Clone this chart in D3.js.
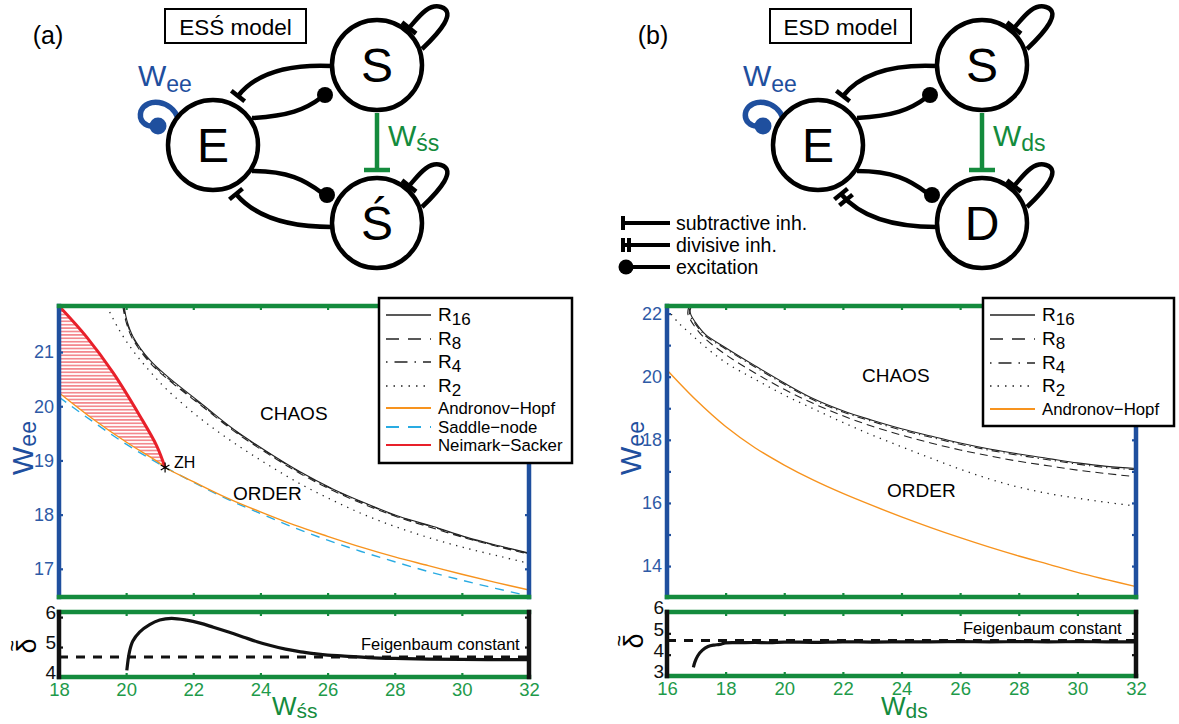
<!DOCTYPE html>
<html>
<head>
<meta charset="utf-8">
<script src="https://cdn.jsdelivr.net/npm/d3@7"></script>
<style>
body { margin:0; background:#fff; }
svg { font-family:"Liberation Sans", Arial, Helvetica, sans-serif; }
</style>
</head>
<body>
<svg id="fig" width="1179" height="724"></svg>
<script>
// ---- data ----
// panel (a): ESS' model, x = W_s's
var aR16 = [[19.94,21.85],[20.02,21.59],[20.21,21.28],[20.71,20.85],[21.21,20.56],[22.2,20.07],[23.19,19.58],[24.2,19.16],[25.18,18.79],[26.17,18.47],[27.17,18.2],[28.16,17.96],[29.15,17.78],[30.15,17.58],[31.14,17.42],[32,17.29]];
var aR8  = [[19.9,21.85],[19.98,21.6],[20.17,21.27],[20.67,20.83],[21.2,20.52],[22.2,20.03],[23.19,19.55],[24.2,19.13],[25.18,18.76],[26.17,18.44],[27.17,18.17],[28.16,17.94],[29.15,17.75],[30.15,17.56],[31.14,17.4],[32,17.27]];
var aR4  = [[19.92,21.85],[20.0,21.6],[20.19,21.28],[20.69,20.84],[21.2,20.54],[22.2,20.05],[23.19,19.57],[24.2,19.15],[25.18,18.78],[26.17,18.46],[27.17,18.19],[28.16,17.95],[29.15,17.77],[30.15,17.57],[31.14,17.41],[32,17.28]];
var aR2  = [[19.42,21.85],[19.8,21.4],[20.21,21.02],[20.7,20.65],[21.21,20.31],[22.2,19.78],[23.2,19.33],[24.2,18.93],[25.18,18.57],[26.2,18.25],[27.2,17.97],[28.2,17.74],[29.2,17.54],[30.2,17.37],[31.2,17.22],[32,17.1]];
var aHopf = [[18,20.25],[19,19.77],[20,19.34],[21,18.95],[21.16,18.87],[22,18.61],[23,18.31],[24,18.05],[25,17.81],[26,17.6],[27,17.4],[28,17.22],[29,17.06],[30,16.9],[31,16.75],[32,16.61]];
var aSaddle = [[18,20.17],[19,19.72],[20,19.3],[21,18.93],[22,18.6],[23,18.29],[24,18.02],[25,17.76],[26,17.53],[27,17.32],[28,17.13],[29,16.95],[30,16.79],[31,16.64],[32,16.5]];
var aNeimark = [[18,21.85],[18.82,21.28],[19.62,20.61],[20.41,19.82],[20.91,19.27],[21.16,18.87]];
var aZH = [21.16,18.87];
var aDelta = [[20.02,4.22],[20.1,4.85],[20.2,5.2],[20.4,5.5],[20.7,5.75],[21.0,5.9],[21.35,5.96],[21.8,5.9],[22.2,5.8],[22.6,5.66],[23.05,5.5],[23.5,5.33],[23.9,5.18],[24.3,5.05],[24.75,4.93],[25.2,4.84],[25.6,4.78],[26.0,4.73],[26.5,4.7],[27.2,4.65],[28,4.62],[29,4.6],[30,4.59],[31,4.58],[32,4.58]];

// panel (b): ESD model, x = W_ds
var bR16 = [[16.84,22.24],[16.79,22.1],[16.82,21.95],[16.95,21.75],[17.3,21.35],[18,20.92],[19,20.35],[20,19.8],[21,19.3],[22,18.92],[23,18.62],[24,18.35],[25,18.12],[26,17.9],[27,17.71],[28,17.55],[29,17.41],[30,17.27],[31,17.16],[32,17.09]];
var bR8  = [[16.74,22.2],[16.71,22.0],[16.8,21.8],[17.2,21.3],[18,20.7],[19,20.12],[20,19.6],[21,19.15],[22,18.76],[23,18.43],[24,18.15],[25,17.9],[26,17.68],[27,17.49],[28,17.32],[29,17.18],[30,17.04],[31,16.93],[32,16.83]];
var bR4  = [[16.8,22.22],[16.76,22.06],[16.8,21.9],[16.93,21.72],[17.28,21.32],[18,20.88],[19,20.31],[20,19.76],[21,19.26],[22,18.88],[23,18.58],[24,18.31],[25,18.08],[26,17.86],[27,17.67],[28,17.51],[29,17.37],[30,17.23],[31,17.12],[32,17.05]];
var bR2  = [[16.0,22.15],[16.4,21.7],[16.79,21.37],[17.3,20.95],[18,20.45],[19,19.92],[20,19.42],[21,18.98],[22,18.55],[23,18.15],[24,17.78],[25,17.42],[26,17.07],[27,16.76],[28,16.5],[29,16.3],[30,16.15],[31,16.02],[32,15.9]];
var bHopf = [[16,20.21],[17,19.25],[18,18.42],[19,17.75],[20,17.2],[21,16.72],[22,16.3],[23,15.92],[24,15.56],[25,15.22],[26,14.9],[27,14.6],[28,14.32],[29,14.06],[30,13.8],[31,13.57],[32,13.35]];
var bDelta = [[16.9,3.4],[16.95,3.65],[17.05,3.95],[17.2,4.2],[17.4,4.38],[17.6,4.45],[17.8,4.48],[18,4.55],[18.5,4.56],[19,4.57],[19.5,4.56],[20,4.59],[21,4.58],[22,4.6],[23,4.59],[24,4.6],[25,4.6],[26,4.61],[27,4.6],[28,4.61],[29,4.6],[30,4.61],[31,4.6],[32,4.6]];

var feigenbaum = 4.669;
var aTicksX = [18,20,22,24,26,28,30,32];
var bTicksX = [16,18,20,22,24,26,28,30,32];
var aTicksY = [17,18,19,20,21];
var bTicksY = [14,15,16,17,18,19,20,21,22];
var bTickLabelsY = [14,16,18,20,22];

var BLUE = "#1f4f9e", BLUE_T = "#2e5aa6", GREEN = "#148b3d", GREEN_T = "#1e9a4a";
var ORANGE = "#f7931e", CYAN = "#29abe2", RED = "#e8202a";

var svg = d3.select("#fig");

// ---- diagrams ----
var nodes = [{id:"E", x:213, y:145}, {id:"S", x:377, y:65}, {id:"S2", x:377, y:223}];
var R = 45;

function tbar(g, x, y, dx, dy, len, color, w) {
  var n = Math.sqrt(dx*dx + dy*dy); dx /= n; dy /= n;
  var px = -dy, py = dx;
  g.append("line").attr("x1", x - px*len/2).attr("y1", y - py*len/2)
    .attr("x2", x + px*len/2).attr("y2", y + py*len/2)
    .attr("stroke", color).attr("stroke-width", w);
}

function diagram(ox, letter3, subTxt, divisive, title, tag) {
  var g = svg.append("g").attr("transform", "translate(" + ox + ",0)");
  var E = nodes[0], S = nodes[1], S2 = nodes[2];
  var stroke = "#000", sw = 4.5;
  // edges
  g.append("path").attr("d", "M" + (S.x-R) + "," + (S.y+1) + " C290,64 256,73 238,96")
    .attr("fill","none").attr("stroke",stroke).attr("stroke-width",sw);
  tbar(g, 238, 96, -18, 23, 17, stroke, sw);
  g.append("path").attr("d", "M252,118 C288,116 305,110 322,97")
    .attr("fill","none").attr("stroke",stroke).attr("stroke-width",sw);
  g.append("circle").attr("cx",325).attr("cy",95).attr("r",8).attr("fill",stroke);
  g.append("path").attr("d", "M252,171 C288,171 305,180 322,193")
    .attr("fill","none").attr("stroke",stroke).attr("stroke-width",sw);
  g.append("circle").attr("cx",327).attr("cy",195).attr("r",8).attr("fill",stroke);
  g.append("path").attr("d", "M" + (S2.x-R) + "," + (S2.y+4) + " C290,227 256,218 236,194")
    .attr("fill","none").attr("stroke",stroke).attr("stroke-width",sw);
  tbar(g, 236, 194, -18, -22, 17, stroke, sw);
  if (divisive) tbar(g, 241, 200, -18, -22, 17, stroke, sw);
  // self loops
  [S, S2].forEach(function (c) {
    var dy = c.y - 65;
    g.append("path").attr("d", "M422," + (49+dy) + " C440," + (32+dy) + " 457," + (12+dy) + " 441," + (7+dy) +
        " C428," + (3+dy) + " 418," + (18+dy) + " 409," + (28+dy))
      .attr("fill","none").attr("stroke",stroke).attr("stroke-width",sw);
    tbar(g, 409, 28+dy, -8, 10, 18, stroke, sw);
  });
  // W_ee loop
  g.append("path").attr("d", "M178,118 C171,100 147,97 141,111 C138,121 146,127 154,126")
    .attr("fill","none").attr("stroke",BLUE).attr("stroke-width",5.5);
  g.append("circle").attr("cx",158).attr("cy",126).attr("r",8.5).attr("fill",BLUE);
  // W_ss link
  g.append("line").attr("x1",S.x).attr("y1",S.y+R+3).attr("x2",S.x).attr("y2",S2.y-R-8)
    .attr("stroke",GREEN).attr("stroke-width",4.5);
  g.append("line").attr("x1",S.x-13).attr("y1",S2.y-R-8).attr("x2",S.x+13).attr("y2",S2.y-R-8)
    .attr("stroke",GREEN).attr("stroke-width",4.5);
  // nodes
  nodes.forEach(function (d, i) {
    g.append("circle").attr("cx",d.x).attr("cy",d.y).attr("r",R)
      .attr("fill","#fff").attr("stroke",stroke).attr("stroke-width",sw);
    g.append("text").attr("x",d.x).attr("y",d.y+17).attr("text-anchor","middle")
      .attr("font-size",48).text(i === 0 ? "E" : (i === 1 ? "S" : letter3));
  });
  // labels
  var t1 = g.append("text").attr("x",138).attr("y",86).attr("fill",BLUE);
  t1.append("tspan").attr("font-size",30).text("W");
  t1.append("tspan").attr("font-size",23).attr("dy",6).text("ee");
  var t2 = g.append("text").attr("x",388).attr("y",146).attr("fill",GREEN);
  t2.append("tspan").attr("font-size",30).text("W");
  t2.append("tspan").attr("font-size",23).attr("dy",5).text(subTxt);
  g.append("rect").attr("x",165).attr("y",9).attr("width",141).attr("height",34)
    .attr("fill","#fff").attr("stroke","#000").attr("stroke-width",2);
  g.append("text").attr("x",235.5).attr("y",34.5).attr("text-anchor","middle").attr("font-size",22.5).text(title);
  g.append("text").attr("x",48).attr("y",44).attr("text-anchor","middle").attr("font-size",25).text(tag);
  return g;
}

diagram(0, "Ś", "śs", false, "ESŚ model", "(a)");
diagram(605, "D", "ds", true, "ESD model", "(b)");

// symbol legend (b)
var kg = svg.append("g");
[["subtractive inh.", 223], ["divisive inh.", 245], ["excitation", 267]].forEach(function (d, i) {
  kg.append("line").attr("x1", i === 2 ? 626 : 622).attr("x2",670).attr("y1",d[1]).attr("y2",d[1])
    .attr("stroke","#000").attr("stroke-width",4);
  if (i < 2) kg.append("line").attr("x1",623).attr("x2",623).attr("y1",d[1]-7).attr("y2",d[1]+7).attr("stroke","#000").attr("stroke-width",4);
  if (i === 1) kg.append("line").attr("x1",629).attr("x2",629).attr("y1",d[1]-7).attr("y2",d[1]+7).attr("stroke","#000").attr("stroke-width",4);
  if (i === 2) kg.append("circle").attr("cx",626).attr("cy",d[1]).attr("r",7.5).attr("fill","#000");
  kg.append("text").attr("x",676).attr("y",d[1]+7).attr("font-size",19.5).text(d[0]);
});

// ---- plots ----
function styleAxis(sel, color, textColor, size) {
  sel.select(".domain").remove();
  sel.selectAll(".tick line").attr("stroke", color).attr("stroke-width", 2.2);
  sel.selectAll(".tick text").attr("fill", textColor).attr("font-size", size || 18)
    .attr("font-family", "Liberation Sans, Arial, sans-serif");
}

function frameLine(x1, y1, x2, y2, color) {
  svg.append("line").attr("x1",x1).attr("y1",y1).attr("x2",x2).attr("y2",y2)
    .attr("stroke",color).attr("stroke-width",4.5).attr("stroke-linecap","square");
}

function curve(x, y, data, color, width, dash, kind) {
  var line = d3.line().x(function (d) { return x(d[0]); }).y(function (d) { return y(d[1]); })
    .curve(kind || d3.curveCatmullRom.alpha(0.5));
  var p = svg.append("path").datum(data).attr("d", line).attr("fill","none")
    .attr("stroke",color).attr("stroke-width",width);
  if (dash) p.attr("stroke-dasharray", dash);
  return p;
}

function mainPanel(x, y, ticksX, ticksY, labelsY, series, legendItems, lg) {
  var l = x.range()[0], r = x.range()[1], t = y.range()[1], b = y.range()[0];
  series.forEach(function (s) { curve(x, y, s.data, s.color, s.width, s.dash); });
  // axes
  var ax;
  ax = svg.append("g").attr("transform","translate(" + l + ",0)")
    .call(d3.axisLeft(y).tickValues(ticksY).tickSize(-4).tickPadding(5)
      .tickFormat(function (d) { return labelsY.indexOf(d) >= 0 ? d : ""; }));
  styleAxis(ax, BLUE, BLUE_T);
  ax = svg.append("g").attr("transform","translate(" + r + ",0)")
    .call(d3.axisRight(y).tickValues(ticksY).tickSize(-4).tickFormat(""));
  styleAxis(ax, BLUE, BLUE_T);
  ax = svg.append("g").attr("transform","translate(0," + t + ")")
    .call(d3.axisTop(x).tickValues(ticksX).tickSize(-4).tickFormat(""));
  styleAxis(ax, GREEN, GREEN_T);
  ax = svg.append("g").attr("transform","translate(0," + b + ")")
    .call(d3.axisBottom(x).tickValues(ticksX).tickSize(-4).tickFormat(""));
  styleAxis(ax, GREEN, GREEN_T);
  frameLine(l, t, l, b, BLUE);
  frameLine(r, t, r, b, BLUE);
  frameLine(l, t, r, t, GREEN);
  frameLine(l, b, r, b, GREEN);
  // legend
  var g = svg.append("g");
  g.append("rect").attr("x",lg.x).attr("y",lg.y).attr("width",lg.w).attr("height",lg.h)
    .attr("fill","#fff").attr("stroke","#000").attr("stroke-width",2.5);
  legendItems.forEach(function (it) {
    g.append("line").attr("x1",lg.x+7).attr("x2",lg.x+52).attr("y1",it.y).attr("y2",it.y)
      .attr("stroke",it.color).attr("stroke-width",it.lw).attr("stroke-dasharray",it.dash || null);
    var tx = g.append("text").attr("x",lg.x+59).attr("y",it.y + 6);
    if (it.sub) {
      tx.append("tspan").attr("font-size",19).text("R");
      tx.append("tspan").attr("font-size",17).attr("dy",4).text(it.sub);
    } else {
      tx.attr("font-size",16.8).text(it.label);
    }
  });
}

function deltaPanel(x, y, ticksX, ticksY, data) {
  var l = x.range()[0], r = x.range()[1], t = y.range()[1], b = y.range()[0];
  svg.append("line").attr("x1",l).attr("x2",r).attr("y1",y(feigenbaum)).attr("y2",y(feigenbaum))
    .attr("stroke","#111").attr("stroke-width",3).attr("stroke-dasharray","9,8");
  curve(x, y, data, "#111", 3.2, null);
  var ax;
  ax = svg.append("g").attr("transform","translate(" + l + ",0)")
    .call(d3.axisLeft(y).tickValues(ticksY).tickSize(-4).tickPadding(3).tickFormat(d3.format("d")));
  styleAxis(ax, "#111", "#111", 19);
  ax.selectAll(".tick text").attr("dy", "0.1em");
  ax = svg.append("g").attr("transform","translate(" + r + ",0)")
    .call(d3.axisRight(y).tickValues(ticksY).tickSize(-4).tickFormat(""));
  styleAxis(ax, "#111", "#111");
  ax = svg.append("g").attr("transform","translate(0," + t + ")")
    .call(d3.axisTop(x).tickValues(ticksX).tickSize(-4).tickFormat(""));
  styleAxis(ax, GREEN, GREEN_T);
  ax = svg.append("g").attr("transform","translate(0," + b + ")")
    .call(d3.axisBottom(x).tickValues(ticksX).tickSize(-4).tickPadding(6).tickFormat(d3.format("d")));
  styleAxis(ax, GREEN, GREEN_T, 18.5);
  frameLine(l, t, r, t, GREEN);
  frameLine(l, b, r, b, GREEN);
  frameLine(l, t, l, b, "#111");
  frameLine(r, t, r, b, "#111");
}

// ---- panel (a) ----
var xA = d3.scaleLinear().domain([18,32]).range([59,529]);
var yA = d3.scaleLinear().domain([16.48,21.85]).range([597,306]);
var yAd = d3.scaleLinear().domain([4,6.17]).range([677,612]);

// hatched Neimark-Sacker region
var defs = svg.append("defs");
var pat = defs.append("pattern").attr("id","hatch").attr("patternUnits","userSpaceOnUse")
  .attr("width",8).attr("height",3.4);
pat.append("line").attr("x1",0).attr("x2",8).attr("y1",1.7).attr("y2",1.7)
  .attr("stroke",RED).attr("stroke-width",0.9);
var region = aNeimark.concat(aHopf.filter(function (d) { return d[0] <= aZH[0]; }).reverse());
svg.append("path").datum(region)
  .attr("d", d3.line().x(function (d) { return xA(d[0]); }).y(function (d) { return yA(d[1]); }).curve(d3.curveLinearClosed))
  .attr("fill","url(#hatch)");

mainPanel(xA, yA, [18,20,22,24,26,28,30,32], aTicksY, aTicksY, [
  {data: aR2, color:"#222", width:1.3, dash:"1.3,5.5"},
  {data: aR4, color:"#222", width:1.1, dash:"8,4,1.3,4"},
  {data: aR8, color:"#222", width:1.1, dash:"8,5"},
  {data: aR16, color:"#222", width:1.1},
  {data: aSaddle, color:CYAN, width:1.4, dash:"9,7"},
  {data: aHopf, color:ORANGE, width:1.4},
  {data: aNeimark, color:RED, width:3}
], [
  {sub:"16", y:315, color:"#222", lw:1.3},
  {sub:"8", y:339, color:"#222", lw:1.5, dash:"13,9"},
  {sub:"4", y:362, color:"#222", lw:1.5, dash:"1.5,7,13,7"},
  {sub:"2", y:386, color:"#222", lw:1.5, dash:"1.5,6"},
  {label:"Andronov\u2212Hopf", y:408, color:ORANGE, lw:2},
  {label:"Saddle\u2212node", y:427, color:CYAN, lw:2, dash:"13,9"},
  {label:"Neimark\u2212Sacker", y:445, color:RED, lw:2}
], {x:379, y:298, w:193, h:165});

// ZH point
svg.append("path").attr("transform","translate(" + xA(aZH[0]) + "," + yA(aZH[1]) + ")")
  .attr("d", d3.symbol(d3.symbolAsterisk, 70)()).attr("fill","none").attr("stroke","#000").attr("stroke-width",1.2);
svg.append("text").attr("x",xA(aZH[0])+9).attr("y",yA(aZH[1])+1).attr("font-size",16).text("ZH");
svg.append("text").attr("x",260).attr("y",420).attr("font-size",19).text("CHAOS");
svg.append("text").attr("x",233).attr("y",500).attr("font-size",19).text("ORDER");

deltaPanel(xA, yAd, aTicksX, [4,5,6], aDelta);
svg.append("text").attr("x",361).attr("y",650).attr("font-size",16.5).text("Feigenbaum constant");

// ---- panel (b) ----
var xB = d3.scaleLinear().domain([16,32]).range([667,1136]);
var yB = d3.scaleLinear().domain([13.02,22.24]).range([597,306]);
var yBd = d3.scaleLinear().domain([3,6]).range([676,612]);

mainPanel(xB, yB, bTicksX, bTicksY, bTickLabelsY, [
  {data: bR2, color:"#222", width:1.3, dash:"1.3,5.5"},
  {data: bR4, color:"#222", width:1.1, dash:"8,4,1.3,4"},
  {data: bR8, color:"#222", width:1.1, dash:"8,5"},
  {data: bR16, color:"#222", width:1.1},
  {data: bHopf, color:ORANGE, width:1.4}
], [
  {sub:"16", y:315, color:"#222", lw:1.3},
  {sub:"8", y:339, color:"#222", lw:1.5, dash:"13,9"},
  {sub:"4", y:363, color:"#222", lw:1.5, dash:"1.5,7,13,7"},
  {sub:"2", y:386, color:"#222", lw:1.5, dash:"1.5,6"},
  {label:"Andronov\u2212Hopf", y:409, color:ORANGE, lw:2}
], {x:983, y:298, w:191, h:128});

svg.append("text").attr("x",862).attr("y",382).attr("font-size",19).text("CHAOS");
svg.append("text").attr("x",887).attr("y",497).attr("font-size",19).text("ORDER");

deltaPanel(xB, yBd, bTicksX, [3,4,5,6], bDelta);
svg.append("text").attr("x",963).attr("y",634).attr("font-size",16.5).text("Feigenbaum constant");

// ---- axis titles ----
function wLabel(x, y, sub, color, rotate, big, small) {
  var t = svg.append("text").attr("fill",color)
    .attr("transform","translate(" + x + "," + y + ")" + (rotate ? " rotate(-90)" : ""))
    .attr("text-anchor", rotate ? "middle" : "start");
  t.append("tspan").attr("font-size",big).text("W");
  t.append("tspan").attr("font-size",small).attr("dy",3).text(sub);
}
wLabel(33, 448, "ee", BLUE, true, 30, 23);
wLabel(641, 448, "ee", BLUE, true, 30, 23);
wLabel(272, 715, "śs", GREEN, false, 26, 21);
wLabel(881, 715, "ds", GREEN, false, 26, 21);
function deltaLabel(x, y) {
  var g = svg.append("g").attr("transform","translate(" + x + "," + y + ") rotate(-90)");
  g.append("text").attr("text-anchor","middle").attr("font-size",27).text("\u03b4");
  g.append("text").attr("y",-17).attr("text-anchor","middle").attr("font-size",20).text("~");
}
deltaLabel(36, 646);
deltaLabel(643, 641);
</script>
</body>
</html>
